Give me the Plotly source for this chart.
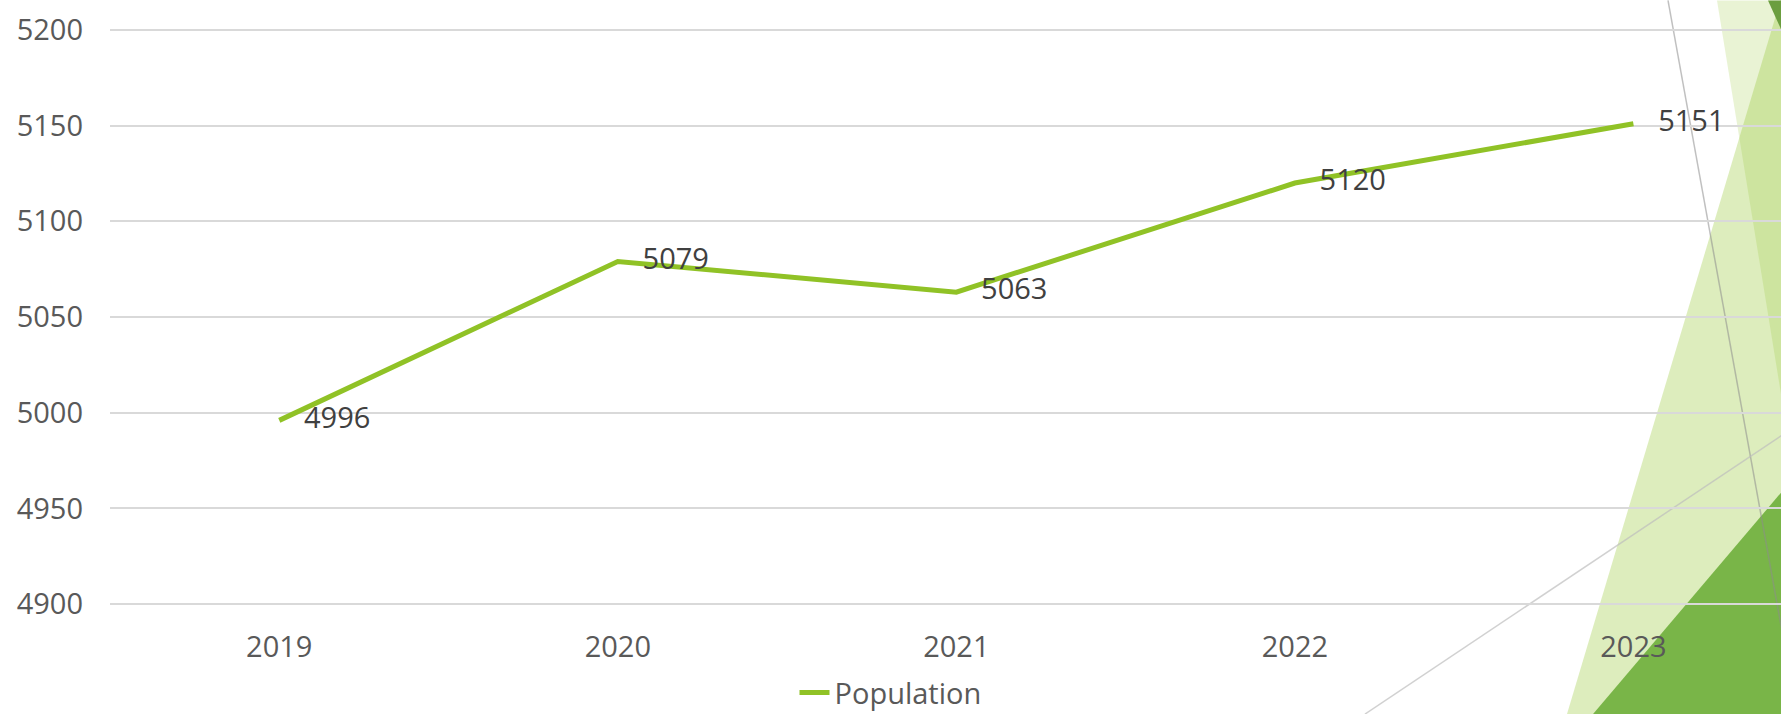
import plotly.graph_objects as go

anos = ["2019", "2020", "2021", "2022", "2023"]
populacao = [4996, 5079, 5063, 5120, 5151]
marcas_y = [4900, 4950, 5000, 5050, 5100, 5150, 5200]

LARGURA, ALTURA = 1781, 714
ESQ, TOPO, BASE = 110, 29.5, 604
Y_MIN, Y_MAX, FOLGA = 4900, 5200, 1.5
FONTE = "Open Sans"

# margens com folga para as linhas de grade de 4900 e 5200 aparecerem
px_por_unidade = (BASE - TOPO) / (Y_MAX - Y_MIN)
TOPO_M = TOPO - FOLGA * px_por_unidade
BASE_M = BASE + FOLGA * px_por_unidade


def px(x, y):
    # pixel da pagina -> coordenadas "paper" da area do grafico
    return (x - ESQ) / (LARGURA - ESQ), (BASE_M - y) / (BASE_M - TOPO_M)


def caminho(pontos):
    partes = []
    for i, (x, y) in enumerate(pontos):
        xp, yp = px(x, y)
        partes.append(("M" if i == 0 else "L") + f"{xp:.5f},{yp:.5f}")
    return " ".join(partes) + " Z"


fig = go.Figure()

fig.add_trace(go.Scatter(
    x=anos,
    y=populacao,
    mode="lines+markers+text",
    name="Population",
    line=dict(color="#90c226", width=5),
    marker=dict(size=38, color="rgba(0,0,0,0)"),
    text=[str(v) for v in populacao],
    textposition="middle right",
    textfont=dict(family=FONTE, size=29, color="#404040"),
    hoverinfo="x+y",
))

# fundo decorativo (tema do slide)
triangulos = [
    ([(1717, 0), (1795, 0), (1795, 480)], "rgba(144,194,38,0.2)"),
    ([(1781, -2), (1795, -2), (1795, 714), (1567, 714)], "rgba(144,194,38,0.3)"),
    ([(1593, 714), (1795, 476), (1795, 714)], "#79b548"),
    ([(1768, 0), (1795, 0), (1795, 60)], "#6b9e3f"),
]
for pts, cor in triangulos:
    fig.add_shape(type="path", path=caminho(pts), xref="paper", yref="paper",
                  fillcolor=cor, line=dict(width=0), layer="below")

linhas = [
    ((1668, 0), (1797, 714), "rgba(140,140,140,0.55)"),
    ((1365, 714), (1800, 423), "rgba(190,190,190,0.7)"),
]
for (x0, y0), (x1, y1), cor in linhas:
    a0, b0 = px(x0, y0)
    a1, b1 = px(x1, y1)
    fig.add_shape(type="line", x0=a0, y0=b0, x1=a1, y1=b1, xref="paper", yref="paper",
                  line=dict(color=cor, width=1.5), layer="below")

fig.update_layout(
    width=LARGURA,
    height=ALTURA,
    margin=dict(l=ESQ, r=0, t=TOPO_M, b=ALTURA - BASE_M),
    paper_bgcolor="white",
    plot_bgcolor="rgba(0,0,0,0)",
    font=dict(family=FONTE, size=29, color="#595959"),
    showlegend=True,
    legend=dict(
        orientation="h",
        xref="container", x=0.5, xanchor="center",
        yref="container", y=0.03, yanchor="middle",
        font=dict(family=FONTE, size=29, color="#595959"),
        bgcolor="rgba(0,0,0,0)",
    ),
    xaxis=dict(
        type="category",
        range=[-0.5, 4.436],
        showgrid=False,
        zeroline=False,
        showline=False,
        ticks="",
        ticklabelstandoff=20,
        tickfont=dict(family=FONTE, size=29, color="#595959"),
    ),
    yaxis=dict(
        range=[Y_MIN - FOLGA, Y_MAX + FOLGA],
        tickvals=marcas_y,
        showgrid=True,
        gridcolor="#d9d9d9",
        gridwidth=2,
        zeroline=False,
        showline=False,
        ticks="",
        ticklabelstandoff=26,
        tickfont=dict(family=FONTE, size=29, color="#595959"),
    ),
)

fig.write_html("out.html", config={"displayModeBar": False},
               post_script="document.body.style.margin='0';")
